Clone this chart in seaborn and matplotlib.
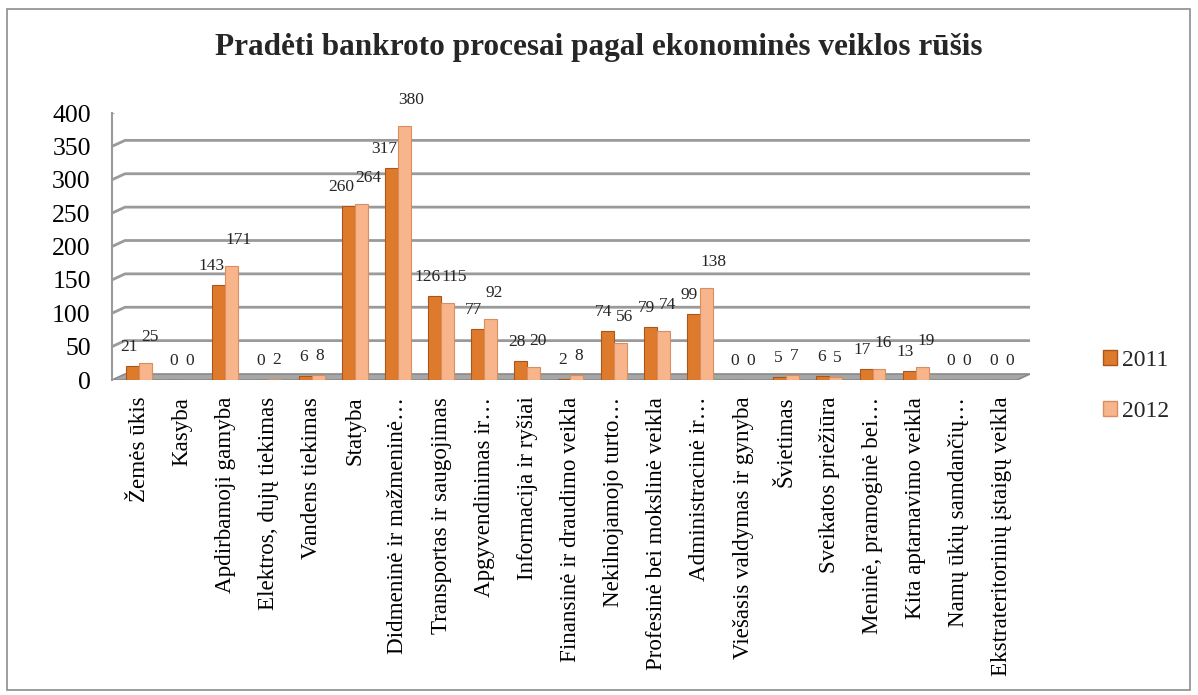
import numpy as np
import pandas as pd
import matplotlib
matplotlib.use("Agg")
import matplotlib.pyplot as plt
import matplotlib.transforms as mtransforms
from matplotlib.patches import Rectangle, Polygon, Patch
from matplotlib.lines import Line2D
import seaborn as sns

categories = [
    "Žemės ūkis", "Kasyba", "Apdirbamoji gamyba", "Elektros, dujų tiekimas",
    "Vandens tiekimas", "Statyba", "Didmeninė ir mažmeninė…",
    "Transportas ir saugojimas", "Apgyvendinimas ir…", "Informacija ir ryšiai",
    "Finansinė ir draudimo veikla", "Nekilnojamojo turto…",
    "Profesinė bei mokslinė veikla", "Administracinė ir…",
    "Viešasis valdymas ir gynyba", "Švietimas", "Sveikatos priežiūra",
    "Meninė, pramoginė bei…", "Kita aptarnavimo veikla",
    "Namų ūkių samdančių…", "Ekstrateritorinių įstaigų veikla",
]
values_2011 = [21, 0, 143, 0, 6, 260, 317, 126, 77, 28, 2, 74, 79, 99, 0, 5, 6, 17, 13, 0, 0]
values_2012 = [25, 0, 171, 2, 8, 264, 380, 115, 92, 20, 8, 56, 74, 138, 0, 7, 5, 16, 19, 0, 0]
years = ["2011", "2012"]
y_ticks = [0, 50, 100, 150, 200, 250, 300, 350, 400]
title = "Pradėti bankroto procesai pagal ekonominės veiklos rūšis"

colors = ["#DE7A2C", "#F8B48A"]
edge_colors = ["#A9561A", "#D98E62"]

sns.set_theme(style="white")
plt.rcParams["font.family"] = ["Liberation Serif", "DejaVu Serif"]

df = pd.DataFrame({
    "category": categories * 2,
    "year": [years[0]] * len(categories) + [years[1]] * len(categories),
    "value": values_2011 + values_2012,
})

W, H = 1198, 695
fig = plt.figure(figsize=(W / 100, H / 100), dpi=100)
ax_l, ax_r, ax_t, ax_b = 112, 1030, 113, 380
ax = fig.add_axes([ax_l / W, 1 - ax_b / H, (ax_r - ax_l) / W, (ax_b - ax_t) / H])

sns.barplot(data=df, x="category", y="value", hue="year", order=categories,
            hue_order=years, palette=colors, width=0.6, ax=ax, legend=False,
            saturation=1, zorder=3)
for cont, ec in zip(ax.containers, edge_colors):
    for p in cont:
        p.set_edgecolor(ec)
        p.set_linewidth(0.8)

ax.set_ylim(0, 400)
ax.set_xlim(-0.626, 20.65)
ax.set_yticks(y_ticks)
ax.set_xlabel("")
ax.set_ylabel("")
ax.grid(False)
for s in ["top", "right", "bottom"]:
    ax.spines[s].set_visible(False)
ax.spines["left"].set_color("#9a9a9a")
ax.spines["left"].set_linewidth(1.5)
ax.tick_params(axis="y", direction="out", length=4.3, width=1.5, color="#9a9a9a",
               labelsize=18.5, pad=11, labelcolor="black")
ax.tick_params(axis="x", length=0, labelsize=16.6, pad=12, labelcolor="black")
plt.setp(ax.get_xticklabels(), rotation=90)

# pseudo-3D walls: back grid lines and floor
dx, dy = 13, 6
fig.canvas.draw()
tf = ax.get_yaxis_transform()
front_end = 1.0 - dx / (ax_r - ax_l)
ident = mtransforms.IdentityTransform()
for v in y_ticks[1:]:
    x0, y0 = tf.transform((0, v))
    x2, y2 = tf.transform((front_end, v))
    line = Line2D([x0, x0 + dx, x2 + dx], [y0, y0 + dy, y2 + dy],
                  transform=ident, color="#9a9a9a", lw=2.0, zorder=0.5)
    ax.add_artist(line)
fx0, fy0 = tf.transform((0, 0))
fx1, _ = tf.transform((front_end, 0))
floor = Polygon([[fx0, fy0], [fx1, fy0], [fx1 + dx, fy0 + dy], [fx0 + dx, fy0 + dy]],
                closed=True, transform=ident, facecolor="#a6a6a6",
                edgecolor="#8a8a8a", lw=1.2, zorder=1)
ax.add_artist(floor)

# data labels (staggered only where neighbouring labels would collide)
signs = [-1, 1]
for k, (cont, vals, sg) in enumerate(zip(ax.containers, [values_2011, values_2012], signs)):
    for i, (p, v) in enumerate(zip(cont, vals)):
        txt = str(v)
        sh = sg * {1: 1.5, 2: 4, 3: 7}[len(txt)]
        wide = max(values_2011[i], values_2012[i]) >= 10
        pd_ = 11 if k == 0 else (18 if wide else 11)
        ax.annotate(txt, (p.get_x() + p.get_width() / 2, p.get_height()),
                    xytext=(sh, pd_), textcoords="offset pixels",
                    ha="center", va="bottom", fontsize=12.5, zorder=5)

fig.text(0.5, 1 - 48 / H, title, ha="center", va="center", fontsize=22.5,
         fontweight="bold")

handles = [Patch(facecolor=c, edgecolor=e) for c, e in zip(colors, edge_colors)]
fig.legend(handles, years, loc="center left",
           bbox_to_anchor=(1082 / W, 1 - 386 / H), frameon=False, fontsize=17,
           handlelength=0.6, handleheight=0.6, labelspacing=1.25,
           handletextpad=0.2)

fig.add_artist(Rectangle((7 / W, 5 / H), (1190 - 7) / W, (690 - 9) / H,
                         transform=fig.transFigure, fill=False,
                         edgecolor="#8c8c8c", lw=1.2))

fig.savefig("out.png", dpi=100)
